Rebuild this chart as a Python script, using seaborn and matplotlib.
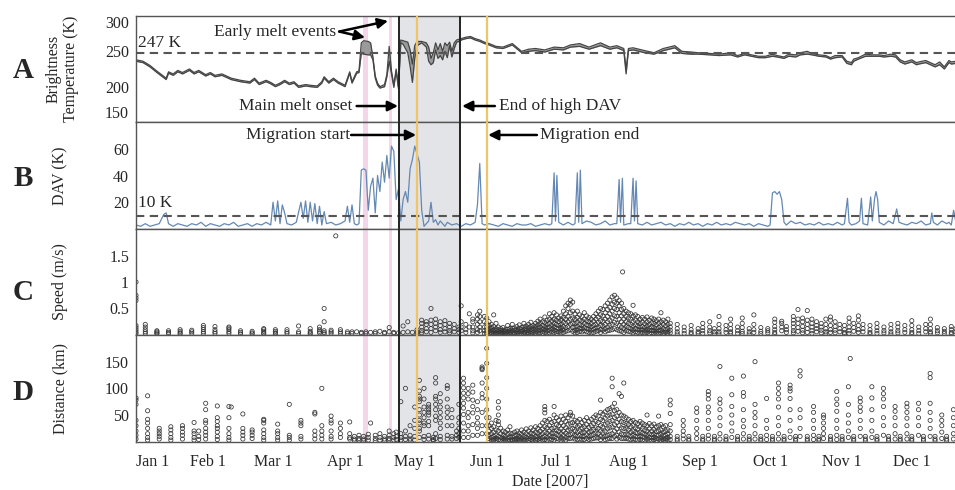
import numpy as np
import pandas as pd
import matplotlib
matplotlib.use("Agg")
import matplotlib.pyplot as plt
import seaborn as sns

# ---------------- data (day of year 2007, 0 = Jan 1) ----------------
tb_day = [0, 3, 6, 9, 11, 13, 14, 16, 18, 20,
          23, 25, 27, 30, 32, 34, 37, 41, 45, 49,
          51, 53, 56, 58, 60, 62, 64, 66, 68, 70,
          73, 75, 78, 80, 81, 83, 85, 87, 90, 92,
          93, 95, 96, 97, 98, 100, 101, 102, 103, 104,
          105, 107, 108, 109, 110, 111, 112, 113, 114, 115,
          117, 118, 119, 120, 121, 123, 125, 126, 127, 128,
          129, 130, 131, 132, 133, 134, 135, 136, 137, 138,
          139, 140, 142, 144, 146, 148, 150, 152, 155, 158,
          162, 166, 169, 172, 176, 180, 184, 187, 191, 195,
          200, 204, 207, 210, 211, 212, 214, 219, 223, 227,
          232, 235, 239, 242, 247, 251, 256, 259, 262, 265,
          268, 271, 274, 276, 279, 281, 284, 286, 289, 291,
          294, 297, 299, 301, 304, 306, 308, 309, 311, 314,
          317, 320, 322, 325, 327, 329, 331, 334, 336, 337,
          340, 342, 344, 346, 348, 350, 351, 353]
tb_hi = [238, 236, 230, 222, 217, 212, 221, 218, 223, 220,
         225, 220, 223, 217, 220, 216, 218, 212, 209, 207,
         212, 205, 209, 206, 202, 205, 209, 205, 207, 201,
         203, 202, 201, 207, 214, 207, 212, 207, 202, 221,
         207, 221, 222, 262, 265, 264, 262, 242, 215, 205,
         200, 203, 217, 257, 222, 202, 225, 200, 266, 265,
         263, 252, 232, 258, 264, 264, 262, 256, 240, 248,
         262, 252, 261, 250, 262, 258, 263, 250, 262, 266,
         267, 268, 270, 271, 268, 266, 263, 261, 257, 256,
         261, 250, 253, 254, 252, 256, 255, 259, 261, 256,
         262, 256, 258, 254, 224, 254, 255, 251, 248, 254,
         258, 250, 249, 248, 247, 246, 248, 244, 247, 245,
         243, 243, 246, 244, 242, 246, 245, 248, 250, 247,
         245, 244, 241, 244, 244, 236, 234, 239, 241, 246,
         245, 245, 244, 246, 245, 238, 235, 238, 234, 235,
         237, 234, 231, 235, 228, 237, 235, 236]
tb_lo = [236, 234, 228, 220, 215, 210, 219, 216, 221, 218,
         223, 218, 221, 215, 218, 214, 216, 210, 207, 205,
         210, 203, 207, 204, 200, 203, 207, 203, 205, 199,
         201, 200, 199, 205, 212, 205, 210, 205, 200, 219,
         205, 219, 220, 247, 246, 245, 245, 238, 212, 202,
         198, 200, 214, 236, 218, 199, 222, 197, 262, 260,
         248, 229, 206, 240, 258, 262, 256, 236, 231, 234,
         252, 240, 244, 238, 250, 241, 258, 242, 254, 263,
         264, 266, 268, 269, 266, 264, 261, 259, 255, 254,
         259, 248, 250, 251, 249, 253, 252, 256, 257, 253,
         258, 253, 255, 251, 218, 251, 252, 248, 246, 251,
         255, 247, 246, 246, 245, 244, 245, 242, 245, 243,
         241, 241, 243, 242, 240, 243, 242, 245, 246, 245,
         243, 242, 239, 241, 242, 233, 231, 236, 239, 243,
         243, 243, 242, 243, 242, 235, 232, 235, 231, 232,
         234, 231, 228, 231, 225, 234, 232, 233]

dav_day = [0, 2, 4, 6, 8, 10, 12, 13, 14, 16,
           18, 20, 22, 24, 26, 28, 30, 32, 34, 36,
           38, 40, 42, 44, 46, 48, 50, 52, 54, 56,
           58, 59, 60, 61, 62, 63, 64, 65, 67, 69,
           71, 72, 73, 74, 75, 76, 77, 78, 79, 80,
           81, 82, 84, 86, 88, 90, 91, 92, 93, 94,
           95, 96, 97, 98, 99, 100, 101, 102, 103, 104,
           105, 106, 107, 108, 109, 110, 111, 112, 113, 114,
           115, 116, 117, 118, 119, 120, 121, 122, 123, 124,
           125, 126, 127, 128, 129, 130, 131, 132, 133, 134,
           136, 138, 140, 142, 144, 146, 147, 148, 149, 150,
           152, 154, 156, 158, 160, 162, 164, 166, 168, 170,
           172, 174, 176, 178, 179, 180, 180.6, 181.2, 182, 184,
           186, 188, 189, 190, 190.6, 191.3, 192, 194, 196, 198,
           200, 202, 204, 206, 207, 208, 208.6, 209.4, 210, 212,
           213, 214, 214.6, 215.3, 216, 218, 220, 222, 224, 226,
           228, 230, 232, 234, 236, 238, 240, 242, 244, 246,
           248, 250, 252, 254, 256, 258, 260, 262, 264, 266,
           268, 270, 272, 273, 274, 275, 276, 277, 278, 279,
           280, 282, 284, 286, 288, 290, 292, 294, 296, 298,
           300, 302, 304, 305, 306.3, 307, 308, 310, 311.5, 312.3,
           313, 315, 316.3, 317, 318, 318.6, 319.3, 320, 322, 324,
           326, 327.5, 328.5, 330, 332, 334, 336, 338, 340, 342,
           342.6, 343.3, 345, 347, 349, 350, 351, 352, 353]
dav_val = [3, 2, 4, 2, 3, 4, 11, 12, 4, 2,
           4, 3, 2, 4, 3, 5, 2, 4, 3, 2,
           4, 3, 5, 2, 3, 4, 2, 4, 3, 5,
           3, 20, 6, 21, 4, 18, 12, 4, 3, 5,
           20, 8, 21, 5, 20, 6, 19, 4, 17, 3,
           13, 4, 5, 3, 4, 6, 17, 5, 18, 4,
           3, 4, 44, 45, 44, 14, 32, 38, 12, 40,
           28, 50, 35, 55, 38, 62, 58, 22, 30, 6,
           22, 28, 20, 45, 52, 62, 56, 50, 14, 2,
           4, 6, 20, 5, 7, 3, 6, 4, 2, 5,
           3, 4, 2, 4, 3, 5, 18, 49, 4, 3,
           4, 3, 2, 4, 3, 2, 4, 3, 3, 4,
           2, 3, 4, 3, 4, 42, 6, 40, 5, 3,
           5, 3, 4, 42, 5, 44, 4, 6, 5, 3,
           4, 6, 3, 4, 4, 37, 5, 38, 3, 4,
           4, 38, 6, 36, 4, 3, 5, 3, 4, 5,
           3, 4, 2, 4, 3, 5, 3, 4, 2, 4,
           3, 5, 3, 4, 3, 5, 4, 3, 4, 2,
           4, 3, 2, 3, 27, 28, 26, 28, 22, 5,
           3, 6, 4, 5, 3, 4, 3, 5, 3, 4,
           3, 5, 3, 4, 23, 5, 3, 4, 6, 23,
           4, 3, 24, 6, 23, 28, 22, 5, 3, 6,
           4, 15, 5, 4, 3, 5, 4, 6, 3, 4,
           12, 5, 3, 6, 4, 5, 3, 14, 5]

spd_day = [0, 4, 9, 14, 19, 24, 29, 34, 40, 45,
           50, 55, 60, 65, 70, 75, 79, 81, 84, 86,
           88, 91, 93, 95, 97, 99, 101, 103, 105, 107,
           109, 111, 113, 115, 117, 119, 121, 123, 125, 127,
           129, 131, 133, 135, 137, 139, 140, 142, 143.5, 145,
           147, 148, 150, 151, 152, 153, 154, 155, 156, 157,
           158, 159, 160, 161, 162, 163, 164, 165, 166, 167,
           168, 169, 170, 171, 172, 173, 174, 175, 176, 177,
           178, 179, 180, 181, 182, 183, 184, 185, 186, 187,
           188, 189, 190, 191, 192, 193, 194, 195, 196, 197,
           198, 199, 200, 201, 202, 203, 204, 205, 206, 207,
           208, 209, 209.5, 210, 211, 212, 213, 214, 215, 216,
           217, 218, 219, 220, 221, 222, 223, 224, 225, 226,
           227, 228, 229, 230, 233, 236, 239, 242, 244, 247,
           249, 251, 254, 256, 259, 261, 264, 266, 269, 272,
           275, 278, 280, 283, 285, 287, 289, 291, 293, 295,
           297, 299, 301, 303, 305, 307, 309, 311, 313, 316,
           319, 322, 325, 328, 331, 334, 337, 340, 342, 345,
           348, 351, 353]
spd_vals = [
    [1.0, 0.75, 0.7, 0.65, 0.18, 0.14, 0.1, 0.06, 0.03], [0.2, 0.15, 0.1, 0.06, 0.03],
    [0.08, 0.06, 0.04, 0.02], [0.08, 0.05, 0.03], [0.1, 0.07, 0.04, 0.02], [0.09, 0.06, 0.03],
    [0.18, 0.14, 0.1, 0.06, 0.03], [0.16, 0.1, 0.06, 0.03], [0.15, 0.13, 0.1, 0.06, 0.03],
    [0.08, 0.05, 0.02], [0.07, 0.04, 0.02], [0.12, 0.1, 0.07, 0.04, 0.02], [0.1, 0.07, 0.04, 0.02],
    [0.1, 0.06, 0.03], [0.17, 0.06, 0.03], [0.12, 0.07, 0.04, 0.02], [0.15, 0.1, 0.07, 0.04],
    [0.5, 0.25, 0.08, 0.05, 0.02], [0.09, 0.06, 0.03], [1.87], [0.1, 0.06, 0.03], [0.06, 0.03],
    [0.06, 0.03], [0.06], [0.05, 0.03], [0.06, 0.03], [0.05], [0.06, 0.03], [0.07], [0.05, 0.03],
    [0.14, 0.06], [0.05, 0.03], [0.04], [0.17, 0.05], [0.25, 0.06], [0.05], [0.1, 0.05, 0.02],
    [0.28, 0.22, 0.15, 0.08, 0.04], [0.25, 0.2, 0.12, 0.06], [0.5, 0.28, 0.2, 0.12, 0.05],
    [0.3, 0.22, 0.15, 0.08], [0.25, 0.18, 0.1, 0.05], [0.27, 0.2, 0.12, 0.06], [0.22, 0.15, 0.08, 0.04],
    [0.2, 0.12, 0.06], [0.15, 0.1, 0.05], [0.55, 0.25, 0.15, 0.08], [0.2, 0.1, 0.05], [0.4, 0.15],
    [0.3, 0.25, 0.15, 0.08, 0.04], [0.38, 0.3, 0.2, 0.1, 0.05], [0.45, 0.35, 0.25, 0.15, 0.08],
    [0.35, 0.25, 0.15, 0.08, 0.03],
    [0.32, 0.22, 0.15, 0.1, 0.05, 0.02], [0.25, 0.18, 0.12, 0.07, 0.03], [0.2, 0.14, 0.09, 0.05, 0.02],
    [0.38, 0.16, 0.1, 0.06, 0.03], [0.22, 0.12, 0.08, 0.04, 0.02], [0.15, 0.1, 0.06, 0.03],
    [0.12, 0.08, 0.05, 0.02], [0.14, 0.09, 0.05, 0.03], [0.1, 0.07, 0.04, 0.02], [0.18, 0.11, 0.06, 0.03],
    [0.12, 0.08, 0.05, 0.02], [0.2, 0.13, 0.08, 0.04], [0.13, 0.09, 0.05, 0.02], [0.16, 0.1, 0.06, 0.03],
    [0.19, 0.12, 0.07, 0.03], [0.14, 0.1, 0.06, 0.02], [0.22, 0.15, 0.1, 0.05, 0.02],
    [0.17, 0.12, 0.08, 0.04], [0.2, 0.14, 0.09, 0.05, 0.02], [0.24, 0.16, 0.11, 0.06, 0.03],
    [0.18, 0.13, 0.08, 0.04], [0.22, 0.16, 0.11, 0.06, 0.03], [0.26, 0.19, 0.13, 0.08, 0.04],
    [0.3, 0.22, 0.15, 0.09, 0.04], [0.25, 0.18, 0.12, 0.07, 0.03], [0.34, 0.24, 0.16, 0.1, 0.05],
    [0.28, 0.2, 0.14, 0.08, 0.04], [0.4, 0.3, 0.22, 0.15, 0.09, 0.04], [0.35, 0.26, 0.18, 0.12, 0.06],
    [0.42, 0.3, 0.22, 0.15, 0.09, 0.04], [0.38, 0.28, 0.2, 0.13, 0.07, 0.03],
    [0.32, 0.25, 0.18, 0.12, 0.06], [0.36, 0.28, 0.2, 0.14, 0.08, 0.04],
    [0.45, 0.33, 0.24, 0.16, 0.1, 0.05], [0.55, 0.4, 0.3, 0.22, 0.14, 0.07],
    [0.6, 0.5, 0.35, 0.25, 0.16, 0.08], [0.66, 0.58, 0.42, 0.3, 0.2, 0.1],
    [0.62, 0.45, 0.32, 0.22, 0.14, 0.07], [0.4, 0.3, 0.22, 0.15, 0.08, 0.04],
    [0.45, 0.33, 0.24, 0.16, 0.1, 0.05], [0.38, 0.28, 0.2, 0.13, 0.07], [0.35, 0.26, 0.18, 0.12, 0.06],
    [0.42, 0.3, 0.22, 0.14, 0.08], [0.36, 0.27, 0.19, 0.12, 0.06], [0.33, 0.25, 0.18, 0.11, 0.05],
    [0.3, 0.22, 0.15, 0.09, 0.04], [0.35, 0.26, 0.18, 0.11, 0.05], [0.4, 0.3, 0.2, 0.13, 0.07],
    [0.45, 0.34, 0.24, 0.15, 0.08], [0.5, 0.38, 0.27, 0.18, 0.1, 0.05], [0.48, 0.36, 0.26, 0.17, 0.09],
    [0.55, 0.42, 0.3, 0.2, 0.12, 0.06], [0.6, 0.48, 0.35, 0.25, 0.15, 0.08],
    [0.66, 0.52, 0.4, 0.28, 0.18, 0.09], [0.72, 0.58, 0.45, 0.32, 0.2, 0.1],
    [0.75, 0.62, 0.5, 0.36, 0.24, 0.12], [0.7, 0.6, 0.48, 0.35, 0.22, 0.1],
    [0.65, 0.55, 0.42, 0.3, 0.18, 0.08], [0.6, 0.48, 0.36, 0.25, 0.15, 0.07], [1.19],
    [0.5, 0.4, 0.3, 0.2, 0.12, 0.05], [0.45, 0.35, 0.25, 0.16, 0.08], [0.42, 0.32, 0.22, 0.14, 0.07],
    [0.4, 0.3, 0.2, 0.12, 0.06], [0.56, 0.36, 0.26, 0.17, 0.09, 0.04], [0.38, 0.28, 0.19, 0.12, 0.06],
    [0.35, 0.25, 0.17, 0.1, 0.05], [0.3, 0.22, 0.15, 0.09, 0.04], [0.33, 0.24, 0.16, 0.1, 0.05],
    [0.3, 0.21, 0.14, 0.08, 0.04], [0.34, 0.25, 0.17, 0.1, 0.05], [0.28, 0.2, 0.13, 0.08, 0.03],
    [0.32, 0.23, 0.15, 0.09, 0.04], [0.3, 0.22, 0.14, 0.08, 0.03], [0.27, 0.19, 0.12, 0.07, 0.03],
    [0.3, 0.22, 0.14, 0.08, 0.03], [0.42, 0.25, 0.16, 0.09, 0.04], [0.28, 0.2, 0.12, 0.06, 0.02],
    [0.25, 0.17, 0.1, 0.05], [0.3, 0.2, 0.12, 0.06, 0.02], [0.22, 0.15, 0.09, 0.04],
    [0.2, 0.12, 0.06, 0.02], [0.15, 0.08, 0.03], [0.18, 0.1, 0.05, 0.02], [0.12, 0.06, 0.03],
    [0.22, 0.14, 0.08, 0.03], [0.25, 0.15, 0.08, 0.04], [0.12, 0.06, 0.02], [0.35, 0.2, 0.12, 0.06, 0.02],
    [0.18, 0.1, 0.05], [0.3, 0.2, 0.12, 0.06, 0.03], [0.15, 0.08, 0.03], [0.32, 0.22, 0.14, 0.07, 0.03],
    [0.12, 0.06, 0.02], [0.38, 0.2, 0.1, 0.05], [0.14, 0.07, 0.03], [0.12, 0.08, 0.04],
    [0.3, 0.24, 0.16, 0.1, 0.05, 0.02], [0.26, 0.22, 0.15, 0.08], [0.16, 0.1, 0.05],
    [0.35, 0.28, 0.22, 0.15, 0.08, 0.04], [0.48, 0.3, 0.22, 0.14, 0.07], [0.32, 0.25, 0.16, 0.09, 0.04],
    [0.46, 0.28, 0.2, 0.12, 0.05], [0.3, 0.22, 0.15, 0.08, 0.03], [0.25, 0.18, 0.12, 0.06],
    [0.22, 0.15, 0.09, 0.04], [0.3, 0.2, 0.12, 0.06, 0.02], [0.34, 0.28, 0.18, 0.1, 0.05],
    [0.25, 0.16, 0.09, 0.04], [0.2, 0.12, 0.06], [0.18, 0.1, 0.05, 0.02], [0.32, 0.24, 0.15, 0.08, 0.03],
    [0.22, 0.14, 0.07], [0.36, 0.28, 0.18, 0.1, 0.05], [0.2, 0.12, 0.06], [0.18, 0.1, 0.05, 0.02],
    [0.22, 0.14, 0.08, 0.03], [0.15, 0.08, 0.04], [0.2, 0.12, 0.06, 0.02], [0.22, 0.15, 0.08, 0.04],
    [0.18, 0.1, 0.05], [0.27, 0.18, 0.1, 0.05, 0.02], [0.15, 0.08, 0.03], [0.2, 0.12, 0.06],
    [0.3, 0.2, 0.12, 0.06, 0.03], [0.14, 0.08, 0.04], [0.12, 0.07, 0.03], [0.16, 0.1, 0.05, 0.02],
    [0.12, 0.06]]

dist_day = [0, 5, 10, 15, 20, 25, 27, 30, 35, 40,
            41, 46, 50, 55, 61, 66, 71, 77, 80, 84,
            88, 92, 94, 96, 98, 100, 101, 103, 105, 107,
            109, 111, 112, 114, 116, 118, 120, 122, 124, 126,
            128, 129, 131, 134, 136, 138, 139, 141, 143, 145,
            147, 149, 151, 152, 153, 154, 155, 156, 157, 158,
            159, 160, 161, 162, 163, 164, 165, 166, 167, 168,
            169, 170, 171, 172, 173, 174, 175, 176, 177, 178,
            179, 180, 181, 182, 183, 184, 185, 186, 187, 188,
            189, 190, 191, 192, 193, 194, 195, 196, 197, 198,
            199, 200, 201, 202, 203, 204, 205, 206, 207, 208,
            209, 210, 211, 212, 213, 214, 215, 216, 217, 218,
            219, 220, 221, 222, 223, 224, 225, 226, 227, 228,
            229, 230, 233, 235.6, 238, 241.4, 244, 246.4, 249, 251.4,
            254, 256.5, 259, 261.5, 264, 266.5, 269, 271.5, 274, 276.6,
            279, 281.6, 284, 285.9, 289, 291.7, 294, 296, 299, 301.7,
            304, 306.7, 307.5, 309, 311.8, 314, 316.8, 319, 321.8, 324,
            326.8, 329, 331.9, 334, 336.9, 339, 341.9, 344, 346.9, 349,
            351.9]
dist_vals = [
    [82, 78, 70, 40, 30, 20, 12, 5], [86, 58, 42, 35, 25, 15, 8, 3], [25, 20, 15, 10, 5],
    [28, 22, 15, 8, 3], [30, 25, 18, 12, 5], [36, 20, 15, 8, 3], [20, 10, 4],
    [72, 60, 40, 35, 25, 18, 12, 5], [67, 45, 38, 30, 25, 18, 10, 4], [66, 45, 25, 15, 8, 3],
    [65], [52, 25, 18, 12, 5], [22, 18, 12, 6], [42, 40, 35, 22, 15, 8, 3], [33, 20, 15, 8, 3],
    [70, 12, 8, 3], [40, 35, 30, 10, 5], [55, 52, 20, 12, 5], [100, 30, 20, 12, 5],
    [48, 40, 35, 20, 10, 5], [35, 25, 15, 8], [37, 15, 8, 5], [10, 5, 2], [12, 6, 3], [10, 5, 2],
    [14, 8, 3], [35], [12, 6, 2], [15, 8, 3], [10, 5, 2], [20, 12, 6, 3], [15, 8, 3], [18, 10, 4],
    [75, 15, 8, 3], [100, 20, 10, 4], [30, 12, 5, 2], [65, 40, 25, 10, 3],
    [115, 95, 85, 80, 75, 60, 50, 40, 35, 25, 20, 8], [100, 80, 65, 55, 45, 35, 30, 10, 4],
    [70, 65, 60, 55, 50, 38, 30, 12, 5], [8, 4, 2], [120, 110, 85, 80, 70, 60, 48, 40, 15, 6],
    [90, 75, 65, 55, 45, 35, 25, 10, 4], [105, 100, 80, 65, 55, 45, 30, 12, 5],
    [60, 45, 30, 10, 5], [20, 12, 6], [70, 45, 35, 25, 15, 8],
    [119, 110, 101, 91, 82, 72, 63, 51, 35, 20, 8], [100, 90, 80, 55, 45, 30, 20, 8],
    [106, 93, 78, 66, 54, 32, 12], [75, 60, 45, 35, 25, 12],
    [140, 137, 135, 110, 90, 82, 55, 30, 15], [175, 147, 120, 100, 80, 60, 45, 30, 15],
    [45, 30, 20, 12, 6, 2], [35, 25, 15, 8, 3], [28, 18, 10, 5, 2], [40, 22, 12, 6, 2],
    [75, 63, 50, 38, 32, 20, 10, 4], [25, 15, 8, 3], [20, 12, 6, 2], [18, 10, 5, 2], [22, 14, 7, 3],
    [28, 16, 8, 3], [15, 9, 4, 2], [18, 11, 5, 2], [20, 12, 6, 3], [16, 10, 5, 2], [22, 14, 7, 3],
    [18, 10, 5, 2], [24, 15, 8, 3], [20, 12, 6, 2], [26, 16, 9, 4], [22, 14, 7, 3],
    [28, 18, 10, 5, 2], [25, 16, 9, 4], [30, 20, 12, 6, 2], [35, 24, 15, 8, 3],
    [66, 60, 54, 40, 28, 18, 10, 4], [38, 26, 16, 8, 3], [42, 30, 20, 12, 5], [36, 25, 16, 9, 4],
    [66, 50, 38, 26, 16, 8, 3], [45, 32, 22, 14, 6], [40, 30, 20, 12, 5], [48, 35, 24, 15, 7, 3],
    [42, 30, 20, 12, 5], [50, 38, 26, 16, 8, 3], [45, 33, 22, 13, 6], [55, 50, 35, 24, 14, 6],
    [48, 36, 25, 15, 7], [40, 30, 20, 12, 5], [38, 28, 18, 10, 4], [42, 30, 20, 12, 5],
    [36, 26, 17, 10, 4], [40, 28, 18, 10, 4], [45, 32, 22, 13, 6], [38, 27, 18, 10, 4],
    [42, 30, 20, 12, 5], [46, 34, 23, 14, 6], [50, 38, 26, 16, 7], [48, 36, 25, 15, 7],
    [78, 55, 42, 30, 20, 10, 4], [52, 40, 28, 18, 8], [56, 44, 32, 20, 10, 4], [60, 48, 35, 24, 12, 5],
    [62, 50, 38, 26, 14, 6], [119, 103, 65, 52, 40, 28, 15, 6], [72, 58, 45, 32, 20, 10],
    [60, 48, 36, 24, 12, 5], [90, 55, 42, 30, 18, 8], [85, 50, 38, 26, 15, 6],
    [110, 48, 36, 25, 14, 6], [45, 34, 24, 14, 6], [42, 32, 22, 13, 5], [38, 28, 18, 10, 4],
    [40, 30, 20, 12, 5], [36, 26, 17, 10, 4], [34, 24, 16, 9, 3], [38, 28, 18, 10, 4],
    [35, 25, 16, 9, 3], [32, 22, 14, 8, 3], [50, 30, 20, 12, 5], [34, 24, 15, 8, 3],
    [30, 20, 13, 7, 2], [33, 23, 14, 8, 3], [28, 19, 12, 6, 2], [48, 30, 20, 12, 5],
    [32, 22, 14, 7, 3], [28, 18, 11, 5, 2], [30, 20, 12, 6, 2], [22, 14, 8, 3],
    [78, 69, 53, 32, 20, 10, 4], [10, 5, 2], [40, 30, 20, 12, 5], [10, 5, 2],
    [63, 55, 40, 25, 15, 6], [10, 5, 2], [94, 88, 80, 65, 55, 40, 25, 12, 5], [10, 5, 2],
    [141, 80, 72, 60, 45, 30, 15, 5], [10, 5, 2], [119, 88, 66, 50, 35, 20, 8], [10, 5, 2],
    [123, 92, 85, 60, 40, 28, 15, 5], [10, 5, 2], [150, 70, 55, 45, 30, 15, 5], [10, 5, 2],
    [81, 40, 25, 12, 4], [10, 5, 2], [110, 100, 90, 80, 65, 45, 30, 15, 5], [10, 5, 2],
    [106, 100, 95, 81, 60, 40, 20, 8], [10, 5, 2], [133, 123, 60, 45, 25, 10], [10, 5, 2],
    [66, 55, 40, 25, 12, 4], [10, 5, 2], [50, 45, 35, 25, 15, 6], [10, 5, 2],
    [94, 80, 70, 57, 40, 25, 12, 4], [10, 5, 2], [103, 70, 50, 35, 20, 8], [156], [10, 5, 2],
    [82, 75, 65, 57, 40, 25, 10], [10, 5, 2], [103, 82, 60, 40, 20, 8], [10, 5, 2],
    [100, 90, 80, 66, 45, 30, 12], [10, 5, 2], [66, 57, 45, 30, 15, 5], [10, 5, 2],
    [72, 65, 55, 44, 30, 15, 5], [10, 5, 2], [72, 60, 45, 30, 12], [10, 5, 2],
    [128, 120, 72, 55, 40, 25, 10], [10, 5, 2], [50, 40, 30, 18, 6], [10, 5, 2],
    [60, 45, 30, 15, 5]]

month_labels = ["Jan 1", "Feb 1", "Mar 1", "Apr 1", "May 1", "Jun 1",
                "Jul 1", "Aug 1", "Sep 1", "Oct 1", "Nov 1", "Dec 1"]

# event markers (day of year)
early_melt_span = (97.7, 99.9)
early_melt_day2 = 109.3
main_melt_onset = 113.3
high_dav_end = 139.5
migration_start = 121.1
migration_end = 151.2
tb_threshold = 247
dav_threshold = 10

# ---------------- helpers ----------------
BASE = pd.Timestamp("2007-01-01")


def to_date(d):
    return BASE + pd.to_timedelta(np.asarray(d, dtype=float), unit="D")


def dt(d):
    return BASE + pd.Timedelta(days=float(d))


tb_df = pd.DataFrame({"date": to_date(tb_day), "hi": tb_hi, "lo": tb_lo})
dav_df = pd.DataFrame({"date": to_date(dav_day), "dav": dav_val})
spd_df = pd.DataFrame([(d, v) for d, vs in zip(spd_day, spd_vals) for v in vs],
                      columns=["day", "speed"])
spd_df["date"] = to_date(spd_df["day"])
dist_df = pd.DataFrame([(d, v) for d, vs in zip(dist_day, dist_vals) for v in vs],
                       columns=["day", "dist"])
dist_df["date"] = to_date(dist_df["day"])

# ---------------- figure ----------------
sns.set_style("white")
plt.rcParams["font.family"] = ["Liberation Serif", "DejaVu Serif"]
plt.rcParams["axes.linewidth"] = 1.0

W, H = 955, 490
fig = plt.figure(figsize=(W / 100, H / 100), dpi=100)
L, R = 136, 955
rows = [(16, 122), (122, 229), (229, 335), (335, 441.7)]
axes = []
for top, bot in rows:
    ax = fig.add_axes([L / W, 1 - bot / H, (R - L) / W, (bot - top) / H])
    axes.append(ax)
axA, axB, axC, axD = axes

xmin, xmax = dt(0), dt(352.6)
for ax in axes:
    ax.axvspan(dt(main_melt_onset), dt(high_dav_end), color="#e3e4e7", lw=0, zorder=0)
    ax.axvspan(dt(early_melt_span[0]), dt(early_melt_span[1]), color="#f3d6e7", lw=0, zorder=0)
    ax.axvline(dt(early_melt_day2), color="#f3d6e7", lw=2.0, zorder=0.5)
    ax.axvline(dt(migration_start), color="#f0c56a", lw=1.6, zorder=3)
    ax.axvline(dt(migration_end), color="#f0c56a", lw=1.6, zorder=3)
    ax.axvline(dt(main_melt_onset), color="#222222", lw=1.4, zorder=3)
    ax.axvline(dt(high_dav_end), color="#222222", lw=1.4, zorder=3)
    ax.set_xlim(xmin, xmax)
    for s in ["top", "bottom", "left"]:
        ax.spines[s].set_color("#555555")
        ax.spines[s].set_linewidth(1.0)
    ax.spines["right"].set_visible(False)
    ax.tick_params(axis="y", length=0, pad=5, labelsize=11.5)

# Panel A
axA.fill_between(tb_df["date"], tb_df["lo"], tb_df["hi"], color="#9a9a9a", lw=0, zorder=1)
sns.lineplot(data=tb_df, x="date", y="hi", ax=axA, color="#454545", lw=0.9, zorder=2)
sns.lineplot(data=tb_df, x="date", y="lo", ax=axA, color="#454545", lw=0.9, zorder=2)
axA.axhline(tb_threshold, color="#555555", lw=1.5, ls=(0, (4, 2.6)), zorder=2.5)
axA.set_ylim(150, 300)
axA.set_yticks([150, 200, 250, 300])
axA.set_ylabel("Brightness\nTemperature (K)", fontsize=11.5, linespacing=1.05)
axA.yaxis.set_label_coords(-0.07, 0.5)
ylabs = axA.get_yticklabels()
ylabs[0].set_va("bottom")
ylabs[-1].set_va("top")

# Panel B
sns.lineplot(data=dav_df, x="date", y="dav", ax=axB, color="#6488b4", lw=0.9, zorder=2)
axB.axhline(dav_threshold, color="#555555", lw=1.5, ls=(0, (4, 2.6)), zorder=2.5)
axB.set_ylim(0, 80)
axB.set_yticks([20, 40, 60])
axB.set_ylabel("DAV (K)", fontsize=11.5)
axB.yaxis.set_label_coords(-0.083, 0.5)

# Panel C
sns.scatterplot(data=spd_df, x="date", y="speed", ax=axC, marker="o", s=9,
                facecolors="none", edgecolors="#333333", linewidths=0.55, zorder=2)
axC.set_ylim(0, 2.0)
axC.set_yticks([0.5, 1.0, 1.5])
axC.set_yticklabels(["0.5", "1", "1.5"])
axC.set_ylabel("Speed (m/s)", fontsize=11.5)
axC.yaxis.set_label_coords(-0.083, 0.5)

# Panel D
sns.scatterplot(data=dist_df, x="date", y="dist", ax=axD, marker="o", s=9,
                facecolors="none", edgecolors="#333333", linewidths=0.55, zorder=2)
axD.set_ylim(0, 200)
axD.set_yticks([50, 100, 150])
axD.set_ylabel("Distance (km)", fontsize=11.5)
axD.yaxis.set_label_coords(-0.083, 0.5)

for ax in axes:
    ax.set_xlabel("")

ticks = [pd.Timestamp(2007, m, 1) for m in range(1, 13)]
for ax in axes[:3]:
    ax.set_xticks(ticks)
    ax.tick_params(axis="x", length=0, labelbottom=False)
axD.set_xticks(ticks)
axD.set_xticklabels(month_labels)
axD.tick_params(axis="x", length=3, color="#cccccc", labelsize=11.5, pad=6)
axD.get_xticklabels()[0].set_ha("left")

# annotations
fs = 12.5
arrow = dict(arrowstyle="-|>,head_length=0.6,head_width=0.3", color="black", lw=1.8,
             shrinkA=0, shrinkB=0)
axA.text(dt(1), 262, "247 K", fontsize=fs, ha="left", va="center")
axA.text(dt(86), 278, "Early melt events", fontsize=fs, ha="right", va="center")
axA.annotate("", xy=(dt(108.5), 293), xytext=(dt(87.5), 278), arrowprops=arrow,
             annotation_clip=False)
axA.annotate("", xy=(dt(98.6), 269.5), xytext=(dt(87.5), 278), arrowprops=arrow)
axA.text(dt(93), 172.6, "Main melt onset", fontsize=fs, ha="right", va="center")
axA.annotate("", xy=(dt(112.8), 172.6), xytext=(dt(95), 172.6), arrowprops=arrow)
axA.annotate("", xy=(dt(140.4), 172.6), xytext=(dt(154.5), 172.6), arrowprops=arrow)
axA.text(dt(156.3), 172.6, "End of high DAV", fontsize=fs, ha="left", va="center")

axB.text(dt(1), 19.4, "10 K", fontsize=fs, ha="left", va="center")
axB.text(dt(92.1), 70.3, "Migration start", fontsize=fs, ha="right", va="center")
axB.annotate("", xy=(dt(120.6), 70.3), xytext=(dt(92.6), 70.3), arrowprops=arrow)
axB.annotate("", xy=(dt(151.6), 70.3), xytext=(dt(172.6), 70.3), arrowprops=arrow)
axB.text(dt(174), 70.3, "Migration end", fontsize=fs, ha="left", va="center")

# panel letters and x label
for letter, yc in zip("ABCD", [70, 178, 292, 392]):
    fig.text(23 / W, 1 - yc / H, letter, fontsize=21, fontweight="bold",
             ha="center", va="center")
fig.text(550 / W, 1 - 481.5 / H, "Date [2007]", fontsize=11.5, ha="center", va="center")

fig.savefig("out.png", dpi=100)
